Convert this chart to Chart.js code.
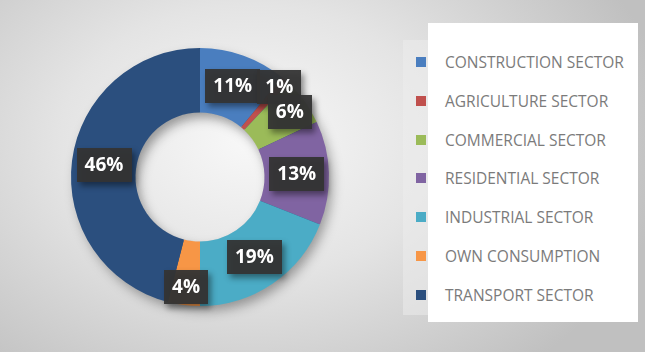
<!DOCTYPE html>
<html>
<head>
<meta charset="utf-8">
<script src="https://cdn.jsdelivr.net/npm/chart.js@4.4.1/dist/chart.umd.min.js"></script>
<style>
  html, body { margin: 0; padding: 0; }
  body {
    width: 645px; height: 352px; position: relative; overflow: hidden;
    background: radial-gradient(ellipse 420px 300px at 250px 140px, #f8f8f8 0%, #e4e4e4 45%, #c0c0c0 100%);
  }
  #wrap { position: absolute; left: 0; top: 0; width: 645px; height: 352px; }
  #legend-shade { position: absolute; left: 403px; top: 40px; width: 30px; height: 275px; background: rgba(238,238,238,0.5); }
  #legend-box { position: absolute; left: 428px; top: 23px; width: 210px; height: 299px; background: #fff; }
  #legend { position: absolute; left: 416px; top: 0; }
  .item { position: absolute; left: 0; white-space: nowrap; font-family: "Open Sans", sans-serif; font-size: 15.5px; color: #7b7b7b; }
  .item span.sq { position: absolute; left: 0; width: 10px; height: 10px; }
  .item span.tx { position: absolute; left: 29px; line-height: 20px; }
</style>
</head>
<body>
<div id="legend-shade"></div>
<div id="legend-box"></div>
<div id="legend"></div>
<div id="wrap"><canvas id="chart" width="645" height="352"></canvas></div>
<script>
const sectors = ['CONSTRUCTION SECTOR', 'AGRICULTURE SECTOR', 'COMMERCIAL SECTOR', 'RESIDENTIAL SECTOR', 'INDUSTRIAL SECTOR', 'OWN CONSUMPTION', 'TRANSPORT SECTOR'];
const shares = [11, 1, 6, 13, 19, 4, 46];
const colors = ['#4A7EBF', '#C0504D', '#9BBB59', '#8064A2', '#4BACC6', '#F79646', '#2B4F7E'];

// legend built from the same arrays
const legendEl = document.getElementById('legend');
sectors.forEach((name, i) => {
  const y = 62 + i * 38.8;
  const div = document.createElement('div');
  div.className = 'item';
  div.style.top = y + 'px';
  div.innerHTML = `<span class="sq" style="top:-5px;background:${colors[i]}"></span><span class="tx" style="top:-10px">${name}</span>`;
  legendEl.appendChild(div);
});

Chart.register({
  id: 'ring-shadow',
  beforeDatasetsDraw: function (chart) {
    const arc = chart.getDatasetMeta(0).data[0];
    if (!arc) return;
    const { ctx } = chart;
    const { x, y, outerRadius, innerRadius } = arc.getProps(['x', 'y', 'outerRadius', 'innerRadius'], true);
    ctx.save();
    ctx.shadowColor = 'rgba(0,0,0,0.35)';
    ctx.shadowBlur = 12;
    ctx.shadowOffsetX = 4;
    ctx.shadowOffsetY = 6;
    ctx.fillStyle = '#2B4F7E';
    ctx.beginPath();
    ctx.arc(x, y, outerRadius - 1, 0, Math.PI * 2);
    ctx.arc(x, y, innerRadius + 1, 0, Math.PI * 2, true);
    ctx.fill();
    ctx.restore();
    // soft inner shadow in the hole
    ctx.save();
    ctx.beginPath();
    ctx.arc(x, y, innerRadius, 0, Math.PI * 2);
    ctx.clip();
    ctx.shadowColor = 'rgba(0,0,0,0.25)';
    ctx.shadowBlur = 10;
    ctx.shadowOffsetX = 3;
    ctx.shadowOffsetY = 4;
    ctx.lineWidth = 10;
    ctx.strokeStyle = 'rgba(0,0,0,0.25)';
    ctx.beginPath();
    ctx.arc(x, y, innerRadius + 5, 0, Math.PI * 2);
    ctx.stroke();
    ctx.restore();
  }
});

Chart.register({
  id: 'box-labels',
  afterDatasetsDraw: function (chart) {
    const { ctx } = chart;
    const meta = chart.getDatasetMeta(0);
    const values = chart.data.datasets[0].data;
    meta.data.forEach((arc, i) => {
      const { x, y, startAngle, endAngle, outerRadius, innerRadius } =
        arc.getProps(['x', 'y', 'startAngle', 'endAngle', 'outerRadius', 'innerRadius'], true);
      const mid = (startAngle + endAngle) / 2;
      let r = (outerRadius + innerRadius) / 2;
      // small slices get pushed outward so the boxes don't collide
      if (values[i] < 2) r = outerRadius * 0.93;
      else if (values[i] < 8) r = outerRadius * 0.86;
      const cx = x + Math.cos(mid) * r;
      const cy = y + Math.sin(mid) * r;
      const text = values[i] + '%';
      ctx.save();
      ctx.font = 'bold 19px "Open Sans", sans-serif';
      const w = ctx.measureText(text).width + 16;
      const h = 34;
      ctx.shadowColor = 'rgba(0,0,0,0.45)';
      ctx.shadowBlur = 6;
      ctx.shadowOffsetX = 3;
      ctx.shadowOffsetY = 4;
      ctx.fillStyle = 'rgba(52,52,52,0.95)';
      ctx.fillRect(Math.round(cx - w / 2), Math.round(cy - h / 2), Math.round(w), h);
      ctx.shadowColor = 'transparent';
      ctx.fillStyle = '#ffffff';
      ctx.textAlign = 'center';
      ctx.textBaseline = 'middle';
      ctx.fillText(text, cx, cy + 1);
      ctx.restore();
    });
  }
});

new Chart(document.getElementById('chart').getContext('2d'), {
  type: 'doughnut',
  data: {
    labels: sectors,
    datasets: [{
      data: shares,
      backgroundColor: colors,
      borderWidth: 0,
      hoverOffset: 0
    }]
  },
  options: {
    responsive: false,
    animation: false,
    cutout: '50%',
    layout: { padding: { left: 68, right: 313, top: 48, bottom: 46 } },
    plugins: {
      legend: { display: false },
      tooltip: { enabled: false }
    }
  }
});
</script>
</body>
</html>
